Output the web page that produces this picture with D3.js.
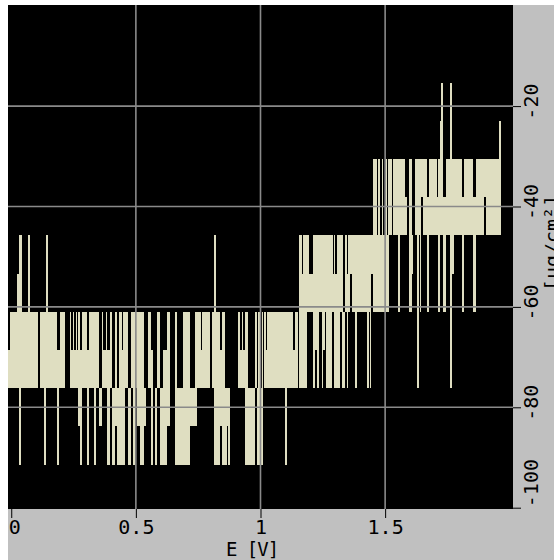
<!DOCTYPE html>
<html><head><meta charset="utf-8">
<script src="https://cdn.jsdelivr.net/npm/d3@7"></script>
<style>html,body{margin:0;padding:0;background:#fff;overflow:hidden}</style>
</head><body>
<svg id="c" width="554" height="560"></svg>
<script>
// quantized mass-change levels (µg/cm²)
const massLevels = [-15.3, -22.9, -30.5, -38.1, -45.7, -53.4, -61.0, -68.6, -76.2, -83.8, -91.5];
// run-length description of the recorded trace: number of samples, highest and lowest level index reached
const runLength = [2,7,2,2,1,6,2,8,2,4,2,2,9,2,1,5,5,1,2,1,2,1,1,2,2,5,2,5,2,3,3,1,3,1,3,2,3,2,2,3,1,2,3,3,2,2,
  2,3,4,2,2,3,2,2,2,3,3,4,3,5,2,6,7,5,2,4,1,8,2,2,2,4,2,3,2,1,2,8,2,2,1,2,3,7,2,1,2,2,1,
  1,2,1,18,2,6,2,3,1,3,1,4,2,4,2,2,2,3,1,2,1,6,1,1,1,2,3,2,1,2,2,1,2,2,3,2,10,2,1,1,2,
  4,1,2,2,1,2,2,1,1,3,1,5,2,5,2,2,3,1,2,2,2,1,1,2,4,2,8,1,2,1,2,3,2,2,2,2,1,2,5,2,3,1,5,3,8,2,5,2,6,2,2,7];
const runHigh = [7,6,5,4,4,6,4,6,8,6,6,4,6,7,7,6,8,6,7,6,7,6,7,6,7,6,7,6,6,6,8,6,7,6,7,6,8,6,8,6,7,6,6,8,6,6,
  6,6,6,8,8,6,7,8,8,6,8,7,6,8,6,8,6,8,6,6,7,6,8,6,4,6,7,6,8,8,8,8,6,7,6,7,6,8,6,8,6,8,6,
  8,6,7,6,6,6,7,6,8,4,5,4,4,5,4,4,4,4,4,4,4,4,4,5,4,5,4,4,4,6,4,5,4,4,4,4,4,4,4,4,4,
  2,4,2,4,2,4,2,4,2,2,4,2,2,2,3,4,2,4,4,2,2,2,2,2,2,3,2,3,2,1,0,3,2,2,0,2,2,2,2,3,2,2,2,3,2,2,2,2,2,1,0,2];
const runLow = [8,8,8,10,8,8,8,8,8,8,10,8,8,10,8,8,8,8,8,8,8,8,8,9,10,8,10,8,10,8,9,8,8,8,10,8,10,9,10,10,10,10,8,10,8,10,
  8,9,10,9,8,8,10,8,10,8,10,10,9,8,10,10,10,9,9,8,8,8,8,8,10,10,9,10,10,9,10,8,8,8,8,8,10,10,8,10,10,10,10,
  8,8,8,8,10,8,8,8,8,8,8,8,6,6,8,7,8,6,8,7,6,8,6,6,8,8,8,6,8,8,6,8,6,5,6,8,6,8,6,8,5,
  6,6,6,6,6,6,6,6,6,4,4,4,6,4,4,4,6,5,4,4,8,4,6,3,4,6,4,4,6,4,4,6,4,4,8,5,4,4,4,6,4,4,4,6,4,3,4,4,4,4];
const startE = -0.013;      // V, first sample
const stepE = 0.00401;      // V per sample
const xTicks = [0, 0.5, 1, 1.5];
const xTickLabels = ["0", "0.5", "1", "1.5"];
const yTicks = [-20, -40, -60, -80, -100];
const yTickLabels = ["-20", "-40", "-60", "-80", "-100"];
const xTitle = "E [V]";
const yTitle = "[µg/cm²]";

const FONT = "'DejaVu Sans Mono', monospace";
const svg = d3.select("#c");
const x = d3.scaleLinear().domain([-0.013, 2.013]).range([8, 513]);
const y = d3.scaleLinear().domain([-100, 0]).range([507.7, 5.7]);

// gray frame panel and black plot area
svg.append("rect").attr("x", 8).attr("y", 5).attr("width", 546).attr("height", 555).attr("fill", "#c0c0c0");
svg.append("rect").attr("x", x(-0.013)).attr("y", 5).attr("width", x(2.013) - x(-0.013)).attr("height", 504).attr("fill", "#000");

// build runs
let e = startE;
const runs = runLength.map((n, i) => {
  const r = { e0: e, e1: e + n * stepE, hi: massLevels[runHigh[i]], lo: massLevels[runLow[i]] };
  e = r.e1;
  return r;
});

svg.append("g").selectAll("rect").data(runs.filter(r => r.hi !== r.lo)).join("rect")
  .attr("x", r => x(r.e0))
  .attr("width", r => x(r.e1) - x(r.e0))
  .attr("y", r => y(r.hi))
  .attr("height", r => y(r.lo) - y(r.hi))
  .attr("fill", "#dfdec1")
  .attr("shape-rendering", "crispEdges");

// grid on top
const grid = svg.append("g").attr("stroke", "#8a8a8a").attr("stroke-width", 1.6);
grid.selectAll("line.h").data(yTicks.filter(d => d > -100)).join("line")
  .attr("x1", 8).attr("x2", 513).attr("y1", d => y(d)).attr("y2", d => y(d));
grid.selectAll("line.v").data(xTicks.filter(d => d > 0)).join("line")
  .attr("y1", 5).attr("y2", 509).attr("x1", d => x(d)).attr("x2", d => x(d));

// x axis
const gx = svg.append("g").attr("transform", "translate(0,509)")
  .call(d3.axisBottom(x).tickValues(xTicks).tickSize(9).tickFormat((d, i) => xTickLabels[i]));
gx.select(".domain").remove();
gx.selectAll(".tick line").attr("stroke", "#000");
gx.selectAll(".tick text").attr("font-family", FONT).attr("font-size", 20).attr("fill", "#000")
  .attr("dy", null).attr("y", 25)
  .attr("text-anchor", (d, i) => i === 0 ? "start" : "middle")
  .attr("x", (d, i) => i === 0 ? -3 : 0);

// y axis on right
const gy = svg.append("g").attr("transform", "translate(513,0)")
  .call(d3.axisRight(y).tickValues(yTicks).tickSize(8).tickFormat((d, i) => yTickLabels[i]));
gy.select(".domain").remove();
gy.selectAll(".tick line").attr("stroke", "#000");
gy.selectAll(".tick text").attr("font-family", FONT).attr("font-size", 20).attr("fill", "#000")
  .attr("x", null).attr("dy", null)
  .attr("text-anchor", d => d === -100 ? "start" : "middle")
  .attr("transform", d => d === -100 ? "translate(25,-1) rotate(-90)" : "translate(25,-5) rotate(-90)");

// titles
svg.append("text").attr("x", 252).attr("y", 556).attr("text-anchor", "middle")
  .attr("font-family", FONT).attr("font-size", 19).attr("letter-spacing", -1).attr("fill", "#000").text(xTitle);
svg.append("text").attr("transform", "translate(559,243) rotate(-90)").attr("text-anchor", "middle")
  .attr("font-family", FONT).attr("font-size", 20).attr("fill", "#000").text(yTitle);
</script>
</body></html>
